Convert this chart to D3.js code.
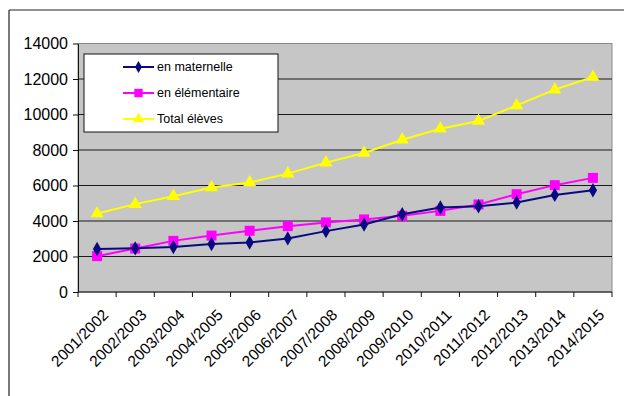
<!DOCTYPE html>
<html>
<head>
<meta charset="utf-8">
<script src="https://d3js.org/d3.v7.min.js"></script>
<style>
  body { margin: 0; background: #fff; }
  svg { display: block; font-family: "Liberation Sans", Arial, sans-serif; }
</style>
</head>
<body>
<div id="chart"></div>
<script>
const years = ['2001/2002', '2002/2003', '2003/2004', '2004/2005', '2005/2006', '2006/2007', '2007/2008',
  '2008/2009', '2009/2010', '2010/2011', '2011/2012', '2012/2013', '2013/2014', '2014/2015'];
const maternelle = [2420, 2460, 2530, 2700, 2790, 3020, 3430, 3800, 4380, 4760, 4830, 5040, 5470, 5730];
const elementaire = [2020, 2450, 2880, 3180, 3450, 3710, 3920, 4090, 4290, 4570, 4930, 5510, 6020, 6430];
const total = [4420, 4950, 5400, 5890, 6170, 6670, 7290, 7830, 8580, 9200, 9630, 10510, 11400, 12110];
const yTicks = [0, 2000, 4000, 6000, 8000, 10000, 12000, 14000];
const seriesNames = ['en maternelle', 'en élémentaire', 'Total élèves'];

const width = 624, height = 396;
const plot = { left: 78, top: 43.5, right: 612, bottom: 292 };

const svg = d3.select('#chart').append('svg')
  .attr('width', width)
  .attr('height', height);

// outer frame (only top and left edges are visible in the crop)
svg.append('line').attr('x1', 9).attr('x2', width).attr('y1', 10).attr('y2', 10)
  .attr('stroke', '#222').attr('stroke-width', 1.2);
svg.append('line').attr('x1', 9).attr('x2', 9).attr('y1', 10).attr('y2', height)
  .attr('stroke', '#222').attr('stroke-width', 1.2);

const x = d3.scaleBand().domain(years).range([plot.left, plot.right]);
const y = d3.scaleLinear().domain([0, 14000]).range([plot.bottom, plot.top]);

// plot background
svg.append('rect')
  .attr('x', plot.left).attr('y', plot.top)
  .attr('width', plot.right - plot.left).attr('height', plot.bottom - plot.top)
  .attr('fill', '#c6c6c6')
  .attr('stroke', '#8a8a8a').attr('stroke-width', 1);

// gridlines
svg.append('g')
  .selectAll('line')
  .data(yTicks.filter(d => d > 0 && d < 14000))
  .join('line')
  .attr('x1', plot.left).attr('x2', plot.right)
  .attr('y1', d => y(d)).attr('y2', d => y(d))
  .attr('stroke', '#1a1a1a').attr('stroke-width', 1);

// y axis
const yAxis = svg.append('g')
  .attr('transform', `translate(${plot.left},0)`)
  .call(d3.axisLeft(y).tickValues(yTicks).tickFormat(d3.format('d')).tickSize(5).tickSizeOuter(0));
yAxis.select('.domain').attr('stroke', '#111');
yAxis.selectAll('.tick line').attr('stroke', '#111');
yAxis.selectAll('text')
  .attr('font-size', 16)
  .attr('font-family', '"Liberation Sans", Arial, sans-serif')
  .attr('fill', '#000')
  .attr('x', -10);

// x axis: ticks at band boundaries
const xAxis = svg.append('g')
  .attr('transform', `translate(0,${plot.bottom})`);
xAxis.append('line')
  .attr('x1', plot.left).attr('x2', plot.right)
  .attr('stroke', '#111');
xAxis.selectAll('.bound')
  .data(years.concat(['end']))
  .join('line')
  .attr('class', 'bound')
  .attr('x1', (d, i) => plot.left + i * x.bandwidth())
  .attr('x2', (d, i) => plot.left + i * x.bandwidth())
  .attr('y1', 0).attr('y2', 5)
  .attr('stroke', '#111');
xAxis.selectAll('text')
  .data(years)
  .join('text')
  .attr('transform', d => `translate(${x(d) + x.bandwidth() / 2 + 8.5},${20}) rotate(-45)`)
  .attr('text-anchor', 'end')
  .attr('dy', '0.35em')
  .attr('font-size', 15.5)
  .attr('fill', '#000')
  .text(d => d);

const cx = d => x(d) + x.bandwidth() / 2;

const series = [
  { name: seriesNames[0], values: maternelle, color: '#0a0a80', symbol: d3.symbolDiamond, size: 60 },
  { name: seriesNames[1], values: elementaire, color: '#ff00ff', symbol: d3.symbolSquare, size: 100 },
  { name: seriesNames[2], values: total, color: '#ffff00', symbol: d3.symbolTriangle, size: 75 }
];

const line = d3.line().x((d, i) => cx(years[i])).y(d => y(d));

// draw total first, then pink, then navy on top
[series[2], series[1], series[0]].forEach(s => {
  const g = svg.append('g');
  g.append('path')
    .attr('d', line(s.values))
    .attr('fill', 'none')
    .attr('stroke', s.color)
    .attr('stroke-width', 2);
  g.selectAll('path.pt')
    .data(s.values)
    .join('path')
    .attr('class', 'pt')
    .attr('d', d3.symbol().type(s.symbol).size(s.size))
    .attr('transform', (d, i) => `translate(${cx(years[i])},${y(d)})`)
    .attr('fill', s.color);
});

// legend
const legend = svg.append('g');
legend.append('rect')
  .attr('x', 84).attr('y', 54)
  .attr('width', 194).attr('height', 78)
  .attr('fill', '#fff')
  .attr('stroke', '#111').attr('stroke-width', 1);

series.forEach((s, i) => {
  const ly = 67 + i * 26;
  legend.append('line')
    .attr('x1', 123).attr('x2', 154)
    .attr('y1', ly).attr('y2', ly)
    .attr('stroke', s.color).attr('stroke-width', 2);
  legend.append('path')
    .attr('d', d3.symbol().type(s.symbol).size(s.size * 0.7))
    .attr('transform', `translate(138.5,${ly})`)
    .attr('fill', s.color);
  legend.append('text')
    .attr('x', 157).attr('y', ly)
    .attr('dy', '0.35em')
    .attr('font-size', 12.5)
    .attr('fill', '#000')
    .text(s.name);
});
</script>
</body>
</html>
